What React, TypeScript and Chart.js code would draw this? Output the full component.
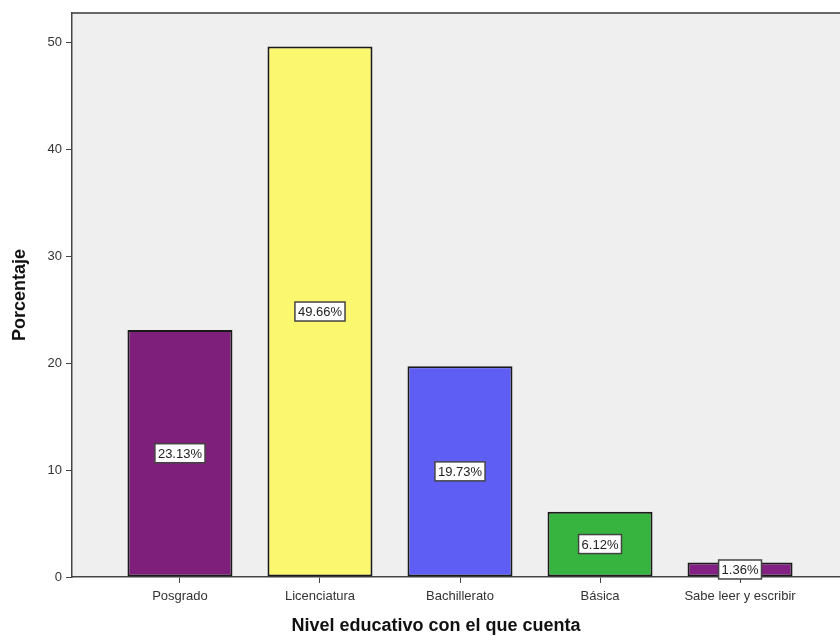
import React, { useEffect, useRef } from "react";
import { Chart, registerables } from "chart.js";

Chart.register(...registerables);

const categories = ["Posgrado", "Licenciatura", "Bachillerato", "Básica", "Sabe leer y escribir"];
const percentages = [23.13, 49.66, 19.73, 6.12, 1.36];
const barColors = ["#7d1f7b", "#fbf86f", "#5e5ef4", "#37b33f", "#841f84"];
const yTicks = [0, 10, 20, 30, 40, 50];
const xTitle = "Nivel educativo con el que cuenta";
const yTitle = "Porcentaje";

const FONT = "'Liberation Sans', Arial, sans-serif";

export default function App() {
  const ref = useRef<HTMLCanvasElement | null>(null);

  useEffect(() => {
    if (!ref.current) return;
    const bgPlugin = {
      id: "plotBg",
      beforeDraw(chart: any) {
        const { ctx, chartArea: a } = chart;
        ctx.save();
        ctx.fillStyle = "#ffffff";
        ctx.fillRect(0, 0, chart.width, chart.height);
        ctx.fillStyle = "#efefef";
        ctx.fillRect(a.left, a.top, a.right - a.left, a.bottom - a.top);
        ctx.strokeStyle = "#666";
        ctx.lineWidth = 2;
        ctx.beginPath();
        ctx.moveTo(a.left, a.top);
        ctx.lineTo(a.right, a.top);
        ctx.lineTo(a.right, a.bottom);
        ctx.stroke();
        ctx.restore();
      },
    };
    const labelPlugin = {
      id: "barLabels",
      afterDatasetsDraw(chart: any) {
        const { ctx } = chart;
        const meta = chart.getDatasetMeta(0);
        ctx.save();
        ctx.font = `13px ${FONT}`;
        ctx.textAlign = "center";
        ctx.textBaseline = "middle";
        meta.data.forEach((bar: any, i: number) => {
          const txt = percentages[i].toFixed(2) + "%";
          const cy = (bar.y + bar.base) / 2;
          const w = ctx.measureText(txt).width + 6;
          const h = 19;
          ctx.fillStyle = "#ffffff";
          ctx.fillRect(bar.x - w / 2, cy - h / 2, w, h);
          ctx.strokeStyle = "#444";
          ctx.lineWidth = 1.5;
          ctx.strokeRect(bar.x - w / 2, cy - h / 2, w, h);
          ctx.fillStyle = "#222";
          ctx.fillText(txt, bar.x, cy + 1);
        });
        ctx.restore();
      },
      afterDraw(chart: any) {
        const { ctx, chartArea: a } = chart;
        ctx.save();
        ctx.fillStyle = "#111";
        ctx.font = `bold 18px ${FONT}`;
        ctx.textAlign = "center";
        ctx.textBaseline = "middle";
        ctx.fillText(xTitle, 436, 626);
        ctx.translate(20, (a.top + a.bottom) / 2);
        ctx.rotate(-Math.PI / 2);
        ctx.fillText(yTitle, 0, 0);
        ctx.restore();
      },
    };
    const chart = new Chart(ref.current, {
      type: "bar",
      data: {
        datasets: [
          {
            data: percentages.map((v, i) => ({ x: i, y: v })),
            backgroundColor: barColors,
            borderColor: "#1a1a1a",
            borderWidth: 2,
            borderSkipped: false,
            categoryPercentage: 1,
            barPercentage: 0.75,
          } as any,
        ],
      },
      options: {
        responsive: false,
        animation: false,
        layout: { padding: { top: 13, right: 12, left: 0, bottom: 0 } },
        plugins: { legend: { display: false }, tooltip: { enabled: false } },
        scales: {
          x: {
            type: "linear",
            offset: false,
            min: -0.771,
            max: 4.771,
            afterFit: (s: any) => { s.height = 64; },
            afterBuildTicks: (s: any) => { s.ticks = categories.map((_, i) => ({ value: i })); },
            border: { display: true, color: "#444", width: 1.5 },
            grid: { offset: false, drawOnChartArea: false, drawTicks: true, tickLength: 6, color: "#444" },
            ticks: {
              autoSkip: false,
              maxRotation: 0,
              padding: 6,
              color: "#333",
              font: { family: FONT, size: 13 },
              callback: (v: any) => (Number.isInteger(v) && categories[v] !== undefined ? categories[v] : ""),
            },
          },
          y: {
            min: 0,
            max: 52.8,
            afterFit: (s: any) => { s.width = 72; },
            border: { display: true, color: "#444", width: 1.5 },
            grid: { drawOnChartArea: false, drawTicks: true, tickLength: 6, color: "#444" },
            afterBuildTicks: (s: any) => { s.ticks = yTicks.map((v) => ({ value: v })); },
            ticks: {
              padding: 4,
              color: "#333",
              font: { family: FONT, size: 13 },
            },
          },
        },
      },
      plugins: [bgPlugin, labelPlugin],
    } as any);
    return () => chart.destroy();
  }, []);

  return (
    <div style={{ position: "absolute", left: 0, top: 0, width: 840, height: 641, overflow: "hidden", background: "#fff" }}>
      <canvas ref={ref} width={860} height={641} style={{ display: "block" }} />
    </div>
  );
}
